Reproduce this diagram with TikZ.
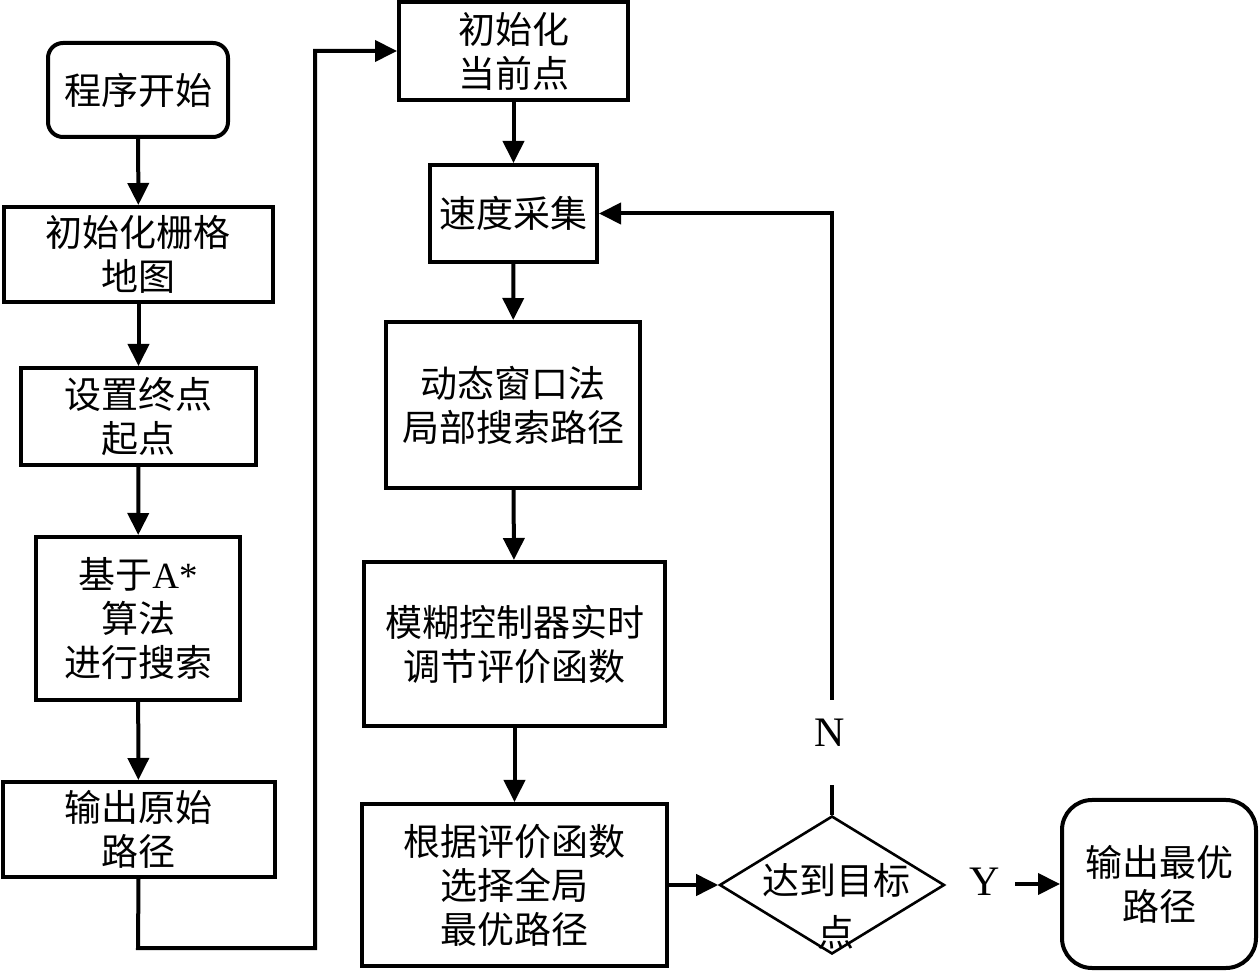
\documentclass[tikz,border=0pt]{standalone}
\usepackage{fontspec}
\setmainfont{Liberation Serif}
\newfontfamily\cjk{Noto Sans CJK SC}
\usetikzlibrary{arrows.meta,shapes.geometric}
\begin{document}
\begin{tikzpicture}[x=0.5pt,y=-0.5pt,
  box/.style={draw, line width=2pt, align=center, inner sep=0pt,
    font=\cjk\fontsize{18.5}{22}\selectfont},
  rbox/.style={box, rounded corners=7.5pt},
  flow/.style={line width=2pt, -{Triangle[length=11pt,width=10.5pt]}},
  plain/.style={line width=2pt},
  lbl/.style={font=\fontsize{21}{24}\selectfont, inner sep=0pt}]
\useasboundingbox (0,0) rectangle (1260,978);
% left column
\node[rbox, minimum width=90pt, minimum height=47pt] (start) at (138,90) {程序开始};
\node[box, minimum width=134.5pt, minimum height=47.5pt] (grid) at (138.5,254.5) {初始化栅格\\地图};
\node[box, minimum width=117.5pt, minimum height=48.5pt] (setpt) at (138.5,416.5) {设置终点\\起点};
\node[box, minimum width=102pt, minimum height=81.5pt] (astar) at (138,618.5) {基于{\fontspec{Liberation Serif}A*}\\算法\\进行搜索};
\node[box, minimum width=136pt, minimum height=47.5pt] (out0) at (138.5,829.5) {输出原始\\路径};
% middle column
\node[box, minimum width=114.5pt, minimum height=49pt] (init) at (513.5,51) {初始化\\当前点};
\node[box, minimum width=83.5pt, minimum height=48.5pt] (speed) at (513.5,213.5) {速度采集};
\node[box, minimum width=127pt, minimum height=83pt] (dwa) at (513,405) {动态窗口法\\局部搜索路径};
\node[box, minimum width=150.5pt, minimum height=82pt] (fuzzy) at (514.5,644) {模糊控制器实时\\调节评价函数};
\node[box, minimum width=152.5pt, minimum height=81pt] (select) at (514.5,885) {根据评价函数\\选择全局\\最优路径};
% decision
\node[diamond, draw, line width=1.3pt, aspect=1.63, minimum width=112.5pt, minimum height=69pt, inner sep=0pt] (dia) at (832,885) {};
\node[align=center, inner sep=0pt, font=\cjk\fontsize{18.5}{26}\selectfont] (diatext) at (836,906) {达到目标\\点};
% final
\node[box, rounded corners=15pt, minimum width=97pt, minimum height=84pt] (final) at (1159,884) {输出最优\\路径};
% labels
\node[lbl] (nlab) at (830,733) {N};
\node[lbl] (ylab) at (985,882) {Y};
% helper coordinates
\coordinate (c1) at (138,948);
\coordinate (c2) at (315,948);
\coordinate (c3) at (315,51);
\coordinate (nlow) at (832,785);
\coordinate (nhigh) at (832,700);
\coordinate (fb) at (832,213.5);
\coordinate (ystart) at (1015,884);
% connectors
\draw[flow] (start) -- (grid);
\draw[flow] (grid) -- (setpt);
\draw[flow] (setpt) -- (astar);
\draw[flow] (astar) -- (out0);
\draw[flow] (out0.south) -- (c1) -- (c2) -- (c3) -- (init.west);
\draw[flow] (init) -- (speed);
\draw[flow] (speed) -- (dwa);
\draw[flow] (dwa) -- (fuzzy);
\draw[flow] (fuzzy) -- (select);
\draw[flow] (select.east) -- (dia.west);
\draw[plain] (dia.north) -- (nlow);
\draw[flow] (nhigh) -- (fb) -- (speed.east);
\draw[flow] (ystart) -- (final.west);
\end{tikzpicture}
\end{document}
